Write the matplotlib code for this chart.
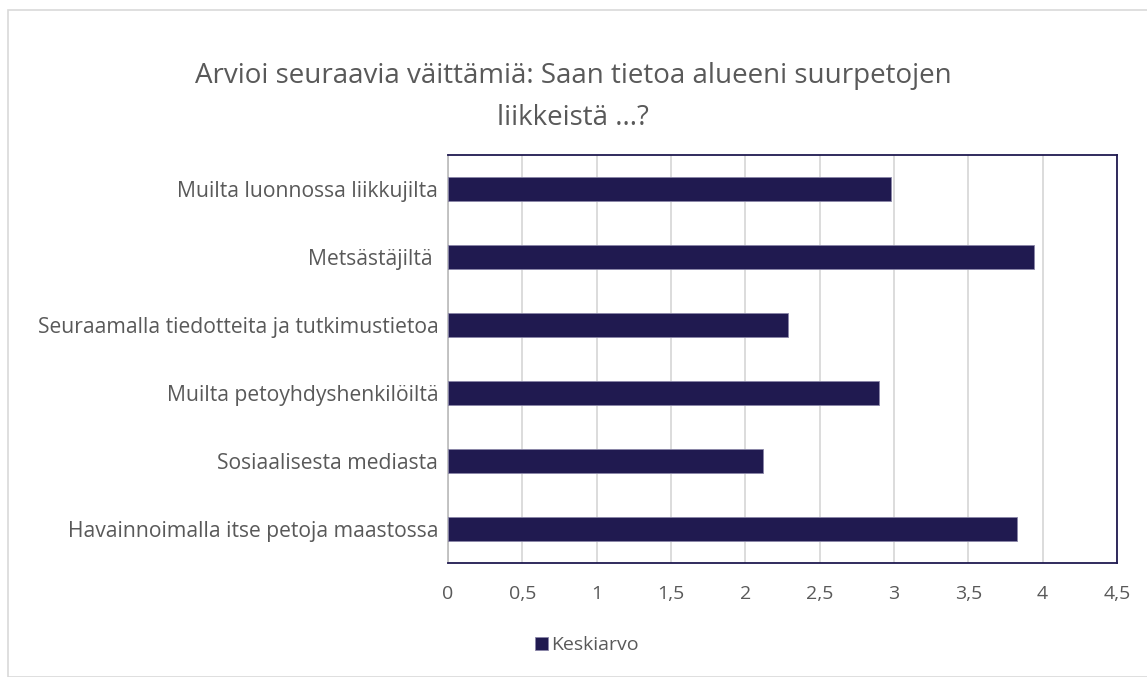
import matplotlib
matplotlib.use("Agg")
import matplotlib.pyplot as plt
from matplotlib.patches import Rectangle
from matplotlib.ticker import FuncFormatter

categories = [
    "Muilta luonnossa liikkujilta",
    "Metsästäjiltä ",
    "Seuraamalla tiedotteita ja tutkimustietoa",
    "Muilta petoyhdyshenkilöiltä",
    "Sosiaalisesta mediasta",
    "Havainnoimalla itse petoja maastossa",
]
values = [2.98, 3.94, 2.29, 2.90, 2.12, 3.83]
series_name = "Keskiarvo"
title = "Arvioi seuraavia väittämiä: Saan tietoa alueeni suurpetojen\nliikkeistä ...?"
xticks = [0, 0.5, 1, 1.5, 2, 2.5, 3, 3.5, 4, 4.5]

bar_color = "#201a50"
text_color = "#595959"
plt.rcParams['font.family'] = ['Open Sans', 'DejaVu Sans']

fig = plt.figure(figsize=(11.47, 6.77), dpi=100)
fig.patches.append(Rectangle((8/1147, 0), 1.2, (677-10)/677, transform=fig.transFigure,
                             fill=False, edgecolor="#d9d9d9", linewidth=1.2))
ax = fig.add_axes([448/1147, 1-563/677, (1117-448)/1147, (563-155)/677])

y = list(range(len(categories)))[::-1]
ax.barh(y, values, height=0.36, color=bar_color, edgecolor="#8a86a8", linewidth=0.6,
        label=series_name, zorder=3)
ax.set_xlim(0, 4.5)
ax.set_ylim(-0.5, len(categories) - 0.5)
ax.set_xticks(xticks)
ax.xaxis.set_major_formatter(FuncFormatter(lambda v, p: ("%g" % v).replace(".", ",")))
ax.set_yticks(y)
ax.set_yticklabels(categories)
ax.tick_params(axis='both', length=0, labelcolor=text_color)
ax.tick_params(axis='y', labelsize=15.2, pad=7)
ax.tick_params(axis='x', labelsize=14, pad=16)
ax.grid(axis='x', color="#d9d9d9", linewidth=1.3, zorder=0)
for s in ['top', 'right', 'bottom']:
    ax.spines[s].set_color(bar_color)
    ax.spines[s].set_linewidth(1.3)
ax.spines['left'].set_color("#bfbfbf")
ax.spines['left'].set_linewidth(1.3)

fig.text(573/1147, 1-97/677, title, ha='center', va='center', fontsize=20,
         color=text_color, linespacing=1.65)

leg = fig.legend(loc='center', bbox_to_anchor=(587/1147, 1-645/677), frameon=False,
                 fontsize=14, handlelength=0.65, handleheight=0.65, handletextpad=0.15,
                 labelcolor=text_color)

fig.savefig("out.png", dpi=100)
